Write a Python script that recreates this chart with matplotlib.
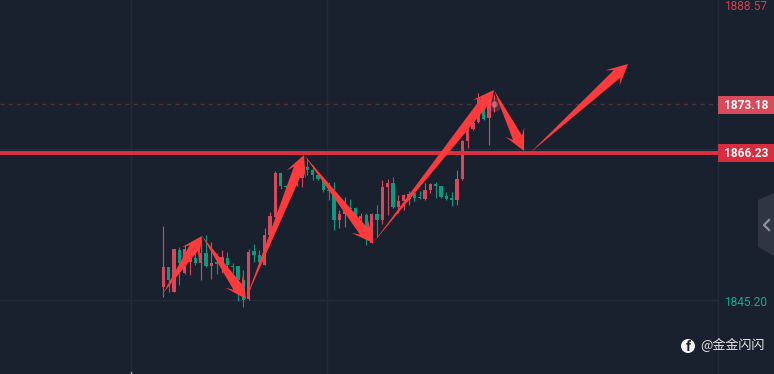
import numpy as np
import matplotlib
matplotlib.use('Agg')
import matplotlib.pyplot as plt
from matplotlib.patches import Polygon, Rectangle, Circle
from matplotlib.transforms import IdentityTransform

# candles, one per bar
opens = [1847.03, 1849.89, 1846.31, 1852.33, 1849.03, 1850.61, 1851.18, 1850.47, 1851.90, 1850.04,
         1850.61, 1850.47, 1851.18, 1850.04, 1850.04, 1848.03, 1845.31, 1852.19, 1851.61, 1850.18,
         1854.48, 1857.06, 1863.36, 1861.50, 1861.50, 1861.65, 1862.65, 1864.22, 1863.79, 1863.08,
         1862.22, 1860.93, 1860.21, 1856.63, 1857.49, 1858.35, 1858.35, 1856.77, 1857.35, 1853.33,
         1857.49, 1856.63, 1861.36, 1861.93, 1858.49, 1859.35, 1859.64, 1860.50, 1859.92, 1859.64,
         1860.93, 1861.79, 1861.50, 1860.07, 1859.78, 1859.49, 1862.50, 1867.95, 1869.67, 1870.67,
         1872.39, 1871.25, 1872.82]
highs = [1855.77, 1849.89, 1852.47, 1852.76, 1853.05, 1853.33, 1852.62, 1854.05, 1854.48, 1853.48,
         1851.90, 1852.33, 1852.04, 1850.47, 1850.04, 1849.46, 1852.47, 1853.19, 1852.33, 1855.48,
         1857.78, 1863.65, 1863.36, 1861.65, 1862.50, 1863.08, 1865.66, 1865.51, 1864.51, 1863.51,
         1862.22, 1862.07, 1862.07, 1858.06, 1859.92, 1859.64, 1858.49, 1857.63, 1857.63, 1857.63,
         1858.78, 1862.36, 1862.50, 1862.79, 1860.21, 1860.35, 1860.78, 1860.64, 1860.78, 1861.93,
         1861.93, 1862.07, 1861.50, 1860.64, 1860.64, 1863.79, 1868.09, 1869.81, 1871.68, 1874.83,
         1874.11, 1874.83, 1874.54]
lows = [1845.59, 1846.31, 1846.31, 1847.31, 1848.89, 1848.75, 1850.18, 1848.03, 1849.89, 1848.17,
        1848.89, 1849.03, 1849.89, 1849.03, 1845.02, 1844.16, 1845.16, 1850.61, 1849.89, 1850.18,
        1854.34, 1857.06, 1861.07, 1861.22, 1861.36, 1861.50, 1861.36, 1863.08, 1862.36, 1862.36,
        1860.64, 1859.49, 1855.20, 1855.48, 1855.63, 1857.35, 1856.63, 1856.20, 1853.05, 1853.33,
        1854.19, 1856.06, 1857.35, 1858.35, 1857.63, 1858.06, 1858.78, 1859.35, 1859.64, 1859.49,
        1860.50, 1859.78, 1859.78, 1859.49, 1858.64, 1858.78, 1862.36, 1866.95, 1869.53, 1870.53,
        1870.96, 1867.38, 1872.11]
closes = [1849.89, 1848.03, 1852.47, 1850.47, 1852.47, 1852.04, 1850.47, 1851.90, 1850.04, 1850.47,
          1850.32, 1851.33, 1850.18, 1849.89, 1848.03, 1845.16, 1852.04, 1851.61, 1850.61, 1854.48,
          1857.20, 1863.36, 1861.50, 1861.36, 1862.22, 1862.79, 1864.22, 1863.79, 1863.08, 1862.50,
          1860.93, 1860.78, 1856.63, 1857.49, 1858.35, 1858.21, 1856.92, 1857.20, 1854.48, 1857.49,
          1856.63, 1861.36, 1861.93, 1858.49, 1859.35, 1860.21, 1860.35, 1859.78, 1859.78, 1860.93,
          1861.79, 1861.50, 1859.92, 1859.64, 1859.49, 1862.50, 1867.95, 1869.53, 1870.53, 1874.11,
          1871.10, 1874.11, 1873.54]

# hand drawn arrows: bar index and price of each end
arrow_x0 = [0.0, 7.25, 15.49, 26.35, 39.28, 61.94, 68.68]
arrow_y0 = [1846.17, 1854.34, 1845.31, 1865.94, 1853.33, 1875.26, 1866.23]
arrow_x1 = [7.25, 15.49, 26.35, 39.28, 61.94, 67.56, 87.04]
arrow_y1 = [1854.34, 1845.31, 1865.94, 1853.33, 1875.26, 1866.52, 1878.98]

support_price = 1866.23
last_price = 1873.18
low_price = 1845.20
top_label = '1888.57'
grid_bars = [-6.1, 30.7, 103.9]
grid_prices = [1866.8, 1845.2]

BG = '#1a212e'
GRID = '#222b3a'
RED = '#d9475a'
GREEN = '#0a9a80'
ARROW = '#ff3a3c'
FONT = ['Roboto', 'DejaVu Sans']
SCALE_EDGE = 103.9


def draw_arrow(ax, x0, y0, x1, y1):
    # arrow shape is worked out in screen pixels so the head keeps its size
    p0, p1 = ax.transData.transform([(x0, y0), (x1, y1)])
    d = p1 - p0
    length = np.hypot(*d)
    u = d / length
    n = np.array([-u[1], u[0]])
    head = min(21, length * 0.4)
    neck = p1 - u * head
    notch = p1 - u * head * 0.7
    pts = [p0, notch + n * 5, neck + n * 10.5, p1, neck - n * 10.5, notch - n * 5]
    ax.add_patch(Polygon(pts, closed=True, facecolor=ARROW, edgecolor='none',
                         transform=IdentityTransform(), zorder=6))


fig = plt.figure(figsize=(7.74, 3.74), dpi=100, facecolor=BG)
ax = fig.add_axes([0, 0, 1, 1], facecolor=BG)
ax.set_xlim(-30.59, 114.39)
ax.set_ylim(1834.56, 1888.15)
ax.axis('off')

for b in grid_bars:
    ax.axvline(b, color=GRID, lw=1, zorder=1)
for p in grid_prices:
    ax.hlines(p, -30.59, SCALE_EDGE, color=GRID, lw=1, zorder=1)

# candles
for i in range(len(opens)):
    color = RED if closes[i] >= opens[i] else GREEN
    ax.vlines(i, lows[i], highs[i], color=color, lw=0.8, zorder=3)
    bottom = min(opens[i], closes[i])
    height = max(abs(closes[i] - opens[i]), 0.15)
    ax.add_patch(Rectangle((i - 0.31, bottom), 0.62, height, facecolor=color,
                           edgecolor='none', zorder=3))

# last price line and marker glow
ax.hlines(last_price, -30.59, SCALE_EDGE, color='#55303c', lw=1, ls=(0, (3, 3)), zorder=2)
ax.scatter([62], [last_price], s=110, color='#e0606e', alpha=0.25, linewidths=0, zorder=7)
ax.scatter([62], [last_price], s=22, color='#e0707c', alpha=0.6, linewidths=0, zorder=7)
ax.axhline(support_price, color='#dc2f40', lw=2.8, zorder=5)

for k in range(len(arrow_x0)):
    draw_arrow(ax, arrow_x0[k], arrow_y0[k], arrow_x1[k], arrow_y1[k])

# overlay in figure pixels for the price scale and the furniture
ui = fig.add_axes([0, 0, 1, 1], facecolor='none')
ui.set_xlim(0, 774)
ui.set_ylim(374, 0)
ui.axis('off')

ui.add_patch(Rectangle((718, 96), 56, 18, facecolor='#d94a5a', edgecolor='none'))
ui.add_patch(Rectangle((718, 144), 56, 18, facecolor='#d92c3e', edgecolor='none'))
ui.text(724, 105, f'{last_price:.2f}', color='#ffffff', fontsize=8.6, fontweight='bold',
        family=FONT, va='center', ha='left')
ui.text(724, 153.5, f'{support_price:.2f}', color='#ffffff', fontsize=8.6, fontweight='bold',
        family=FONT, va='center', ha='left')
ui.text(724, 6, top_label, color='#d0404f', fontsize=8.6, family=FONT, va='center', ha='left')
ui.text(724, 303, f'{low_price:.2f}', color='#0ab08f', fontsize=8.6, family=FONT, va='center', ha='left')

# collapse tab on the right edge
ui.add_patch(Polygon([(758, 200), (774, 193), (774, 256), (758, 247)], closed=True,
                     facecolor='#2f3543', edgecolor='none'))
ui.plot([769, 764, 769], [220, 225, 230], color='#8d929c', lw=1.6)

# watermark
ui.add_patch(Circle((688, 346), 7, facecolor='#f4f4f4', edgecolor='none'))
ui.text(688.5, 347, 'f', color='#1a212e', fontsize=10, fontweight='bold', family=FONT,
        ha='center', va='center')
ui.text(700, 345.5, '@金金闪闪', color='#e6e6e6', fontsize=9.4,
        family=['Noto Sans CJK SC', 'DejaVu Sans'], ha='left', va='center')

ui.plot([131, 131], [372, 374], color='#9aa0aa', lw=1)

fig.savefig('out.png', dpi=100, facecolor=BG)
